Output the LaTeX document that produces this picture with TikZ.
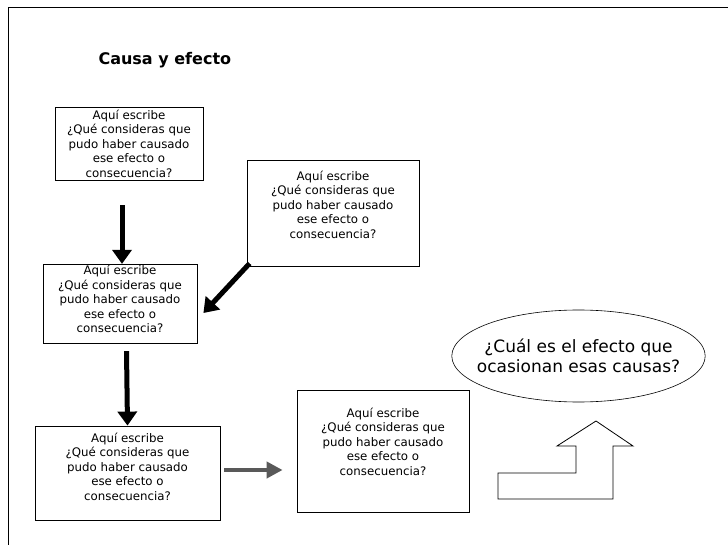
\documentclass[tikz,border=0pt]{standalone}
\usepackage{fontspec}
\setmainfont{DejaVu Sans}
\usetikzlibrary{arrows.meta,calc,shapes.geometric}

\begin{document}
\begin{tikzpicture}[
    x=1pt, y=-1pt,
    cause/.style={
        draw=black,
        line width=0.8pt,
        align=center,
        inner sep=1pt,
        font=\fontsize{11.8}{14.5}\selectfont
    },
    effect/.style={draw=black, line width=0.6pt, ellipse, align=center,
        inner xsep=-12pt, inner ysep=8pt, font=\fontsize{17}{19.5}\selectfont},
    fat/.style={line width=5pt, black, -{Triangle[width=19pt,length=14pt]}},
    greyfat/.style={line width=4pt, black!65, -{Triangle[width=16pt,length=16pt]}},
    title/.style={font=\fontsize{16}{19}\selectfont\bfseries, anchor=west}
]
\useasboundingbox (0,0) rectangle (728,545);

% --- Frame ---
\draw[line width=0.8pt] (8,545) -- (8,7) -- (728,7);

% --- Title ---
\node[title] (title) at (95,60) {Causa y efecto};

% --- Cause boxes ---
\node[cause, minimum width=148pt, minimum height=73pt] (box1) at (129,143.5)
    {Aquí escribe\\¿Qué consideras que\\pudo haber causado\\ese efecto o\\consecuencia?};
\node[cause, minimum width=172pt, minimum height=106pt] (box2) at (333,213)
    {Aquí escribe\\¿Qué consideras que\\pudo haber causado\\ese efecto o\\consecuencia?\\[2.5pt]\mbox{}};
\node[cause, minimum width=154pt, minimum height=78pt] (box3) at (120,304)
    {Aquí escribe\\¿Qué consideras que\\pudo haber causado\\ese efecto o\\consecuencia?\\[-4.5pt]\mbox{}};
\node[cause, minimum width=185pt, minimum height=94pt] (box4) at (127.5,473)
    {Aquí escribe\\¿Qué consideras que\\pudo haber causado\\ese efecto o\\consecuencia?\\[-1.5pt]\mbox{}};
\node[cause, minimum width=172pt, minimum height=122pt] (box5) at (383,451)
    {Aquí escribe\\¿Qué consideras que\\pudo haber causado\\ese efecto o\\consecuencia?\\[4.5pt]\mbox{}};

% --- Effect ---
\node[effect, minimum width=247pt, minimum height=92pt] (eff) at (578.5,356)
    {¿Cuál es el efecto que\\ocasionan esas causas?};

% --- Arrows ---
\draw[fat] ($(box1.south -| box3.north)+(2,25)$) -- ($(box3.north)+(2,0)$);
\draw[fat] ($(box2.south west)+(3,-3)$) -- ($(box3.east)+(6,9)$);
\draw[fat] ($(box3.south -| box4.north)+(-1,7)$) -- (box4.north);
\draw[greyfat] ($(box4.east)+(4,-3)$) -- ($(box5.west |- box4.east)+(-14,-3)$);

% --- Up arrow ---
\draw[line width=0.8pt] (596,421) -- (633,446) -- (613,446) -- (613,499) -- (498,499)
    -- (498,473) -- (576,473) -- (576,446) -- (557,446) -- cycle;

\end{tikzpicture}
\end{document}
